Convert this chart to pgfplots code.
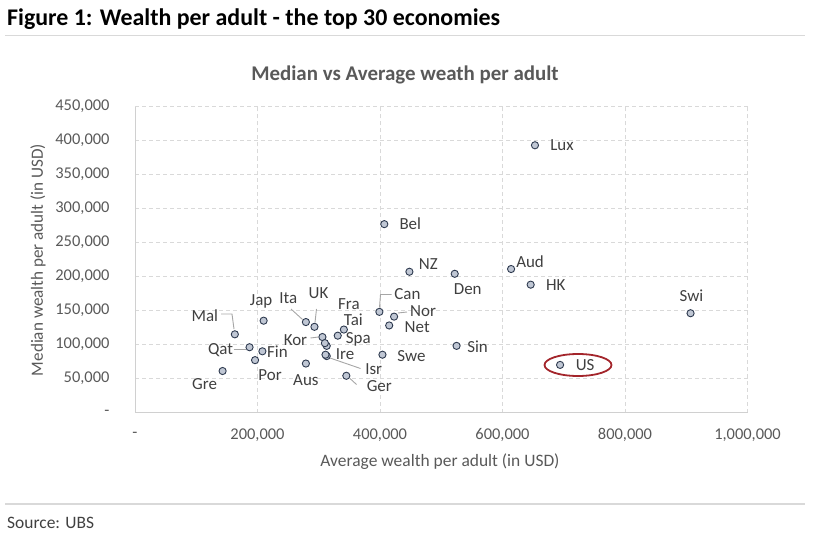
\documentclass[border=0pt]{standalone}
\usepackage{fontspec}
\setmainfont{Carlito}
\usepackage{pgfplots}
\pgfplotsset{compat=1.18}
\usepackage{pgfplotstable}

\definecolor{gridgrey}{HTML}{D9D9D9}
\definecolor{axisgrey}{HTML}{D0D0D0}
\definecolor{ticktext}{HTML}{595959}
\definecolor{labeltext}{HTML}{404040}
\definecolor{leadergrey}{HTML}{A6A6A6}
\definecolor{markfill}{HTML}{C0C7D4}
\definecolor{markedge}{HTML}{2E3A4F}
\definecolor{circlered}{HTML}{A3252B}

% average and median wealth per adult (USD); dx, dy place each label
\pgfplotstableread{
avg     median  lab  dx   dy
653000  393000  Lux  27   0
407000  277000  Bel  26   0
448000  207000  NZ   19   7.5
522000  204000  Den  13  -15.5
614000  211000  Aud  19   7
646000  188000  HK   25   0
907000  146000  Swi  1    17
694000   70000  US   25   0
399000  148000  Can  28   17.7
423000  141000  Nor  29   5
415000  128000  Net  28  -1.5
525000   98000  Sin  21  -1
404000   85000  Swe  29  -1
345000   54000  Ger  33  -10.5
279000   72000  Aus  0   -16.3
313000   83000  Isr  47  -13
311000   85000  Ire  19.5 1
306000  111000  Kor  -27 -3.3
313000   98000  {}   0    0
310000  102000  Fra  24   39.5
331000  113000  Spa  20.5 -4
341000  122000  Tai  9.5  10
279000  133000  Ita  -17.5 24
293000  126000  UK   4    33.5
210000  135000  Jap  -2.5 19.5
163000  115000  Mal  -30  19
187000   96000  Qat  -29 -2.5
208000   90000  Fin  15   0
196000   77000  Por  15  -15
143000   61000  Gre  -18 -12.7
}\wealth

\begin{document}
\begin{tikzpicture}[x=1bp,y=1bp]
\useasboundingbox (0,0) rectangle (815,-541);

% heading and rules
\node[anchor=base west, inner sep=0pt, font=\fontsize{24}{28}\selectfont\bfseries]
  at (7,-26) {Figure 1: Wealth per adult - the top 30 economies};
\draw[gridgrey, line width=1.2bp] (5,-35.5) -- (805,-35.5);
\draw[gridgrey, line width=1.2bp] (5,-504) -- (805,-504);
\node[anchor=west, inner sep=0pt, text=labeltext, font=\fontsize{17.5}{20}\selectfont]
  at (7,-523) {Source: UBS};

\begin{axis}[
  at={(135bp,-412.5bp)}, anchor=origin,
  scale only axis, width=612.5bp, height=306bp,
  xmin=0, xmax=1000000, ymin=0, ymax=450000,
  clip=false,
  scaled ticks=false,
  xtick={0,200000,400000,600000,800000,1000000},
  xticklabels={{-},{200,000},{400,000},{600,000},{800,000},{1,000,000}},
  ytick={0,50000,100000,150000,200000,250000,300000,350000,400000,450000},
  yticklabels={{-\hspace{4bp}},{50,000},{100,000},{150,000},{200,000},{250,000},{300,000},{350,000},{400,000},{450,000}},
  grid=major,
  grid style={gridgrey, dash pattern=on 4bp off 3bp, line width=0.8bp},
  axis x line*=bottom, axis y line*=left,
  axis line style={axisgrey, line width=1bp, -},
  major tick style={draw=none},
  xticklabel style={anchor=center, yshift=-22.5bp, text=ticktext, font=\fontsize{16.5}{19}\selectfont},
  yticklabel style={anchor=east, xshift=-22bp, text=ticktext, font=\fontsize{16.5}{19}\selectfont},
]
\addplot[only marks, mark=*, mark size=3.6bp,
  mark options={fill=markfill, draw=markedge, line width=0.9bp},
  nodes near coords, point meta=explicit symbolic,
  visualization depends on={\thisrow{dx} \as \dx},
  visualization depends on={\thisrow{dy} \as \dy},
  every node near coord/.append style={anchor=center, xshift=\dx*1bp, yshift=\dy*1bp,
    inner sep=0pt, text=labeltext, font=\fontsize{17}{19}\selectfont}]
  table[x=avg, y=median, meta=lab] {\wealth};
\end{axis}

% leader lines for crowded labels
\begin{scope}[leadergrey, line width=0.9bp]
  \draw (221,-314) -- (232,-314) -- (234,-329);
  \draw (233.5,-349.5) -- (245.5,-349.5);
  \draw (291,-309) -- (302.5,-319.5);
  \draw (316.5,-309) -- (315,-322.5);
  \draw (310.5,-338) -- (318.5,-337);
  \draw (379.5,-307.5) -- (380.5,-294.5) -- (391.5,-294.5);
  \draw (398,-313) -- (407,-312);
  \draw (330,-358) -- (360.5,-368.5);
  \draw (350,-378.5) -- (356.5,-384.5);
\end{scope}

% highlight around the US
\draw[circlered, line width=1.8bp] (578,-365) ellipse [x radius=33.5, y radius=11];

% chart and axis titles
\node[text=ticktext, font=\fontsize{21}{25}\selectfont\bfseries] at (405,-75) {Median vs Average weath per adult};
\node[text=ticktext, rotate=90, font=\fontsize{17.2}{20}\selectfont] at (38,-260) {Median wealth per adult (in USD)};
\node[text=ticktext, font=\fontsize{17.5}{20}\selectfont] at (440,-462) {Average wealth per adult (in USD)};
\end{tikzpicture}
\end{document}
